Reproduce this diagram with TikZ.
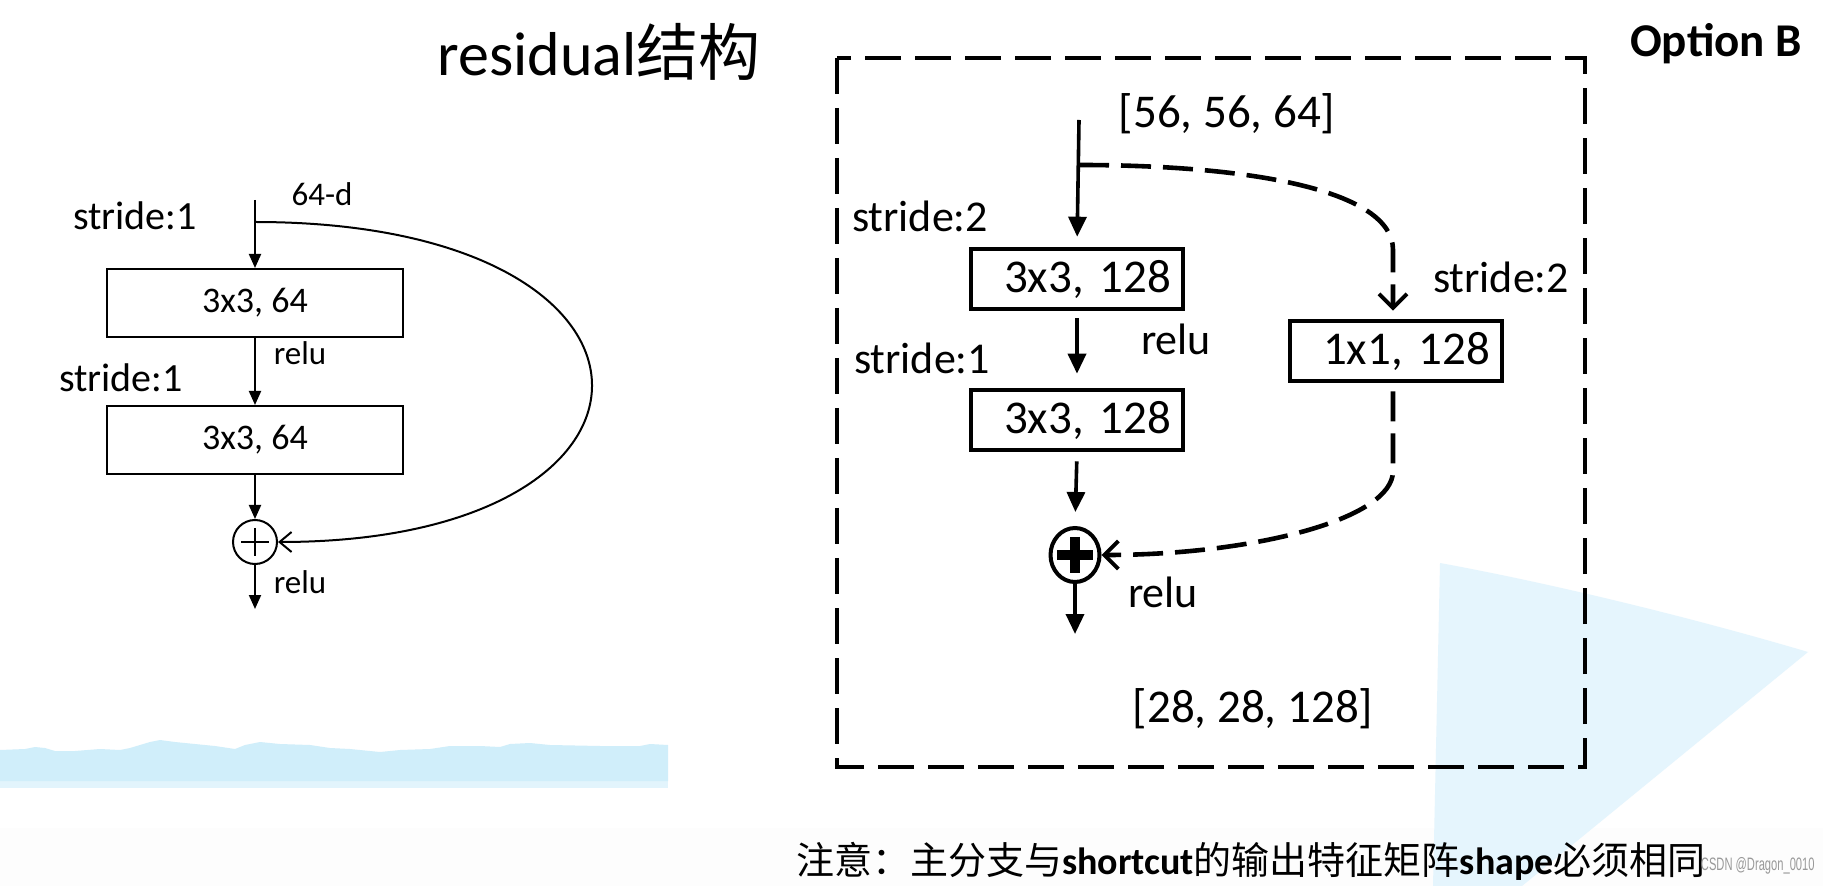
\documentclass[tikz,border=0pt]{standalone}
\usepackage{fontspec}
\setmainfont{Carlito}
\newfontfamily\cjk{Noto Sans CJK SC}
\newfontfamily\wmfont{Liberation Sans}
\usetikzlibrary{arrows.meta,shapes.geometric}
\definecolor{bandblue}{HTML}{D0EEFA}
\definecolor{bandlight}{HTML}{E2F4FC}
\definecolor{triblue}{HTML}{E5F5FD}
\definecolor{floor}{HTML}{FDFDFD}
\begin{document}
\begin{tikzpicture}[x=0.5pt,y=-0.5pt,
  lbox/.style={draw, line width=1pt, minimum width=148pt, minimum height=34pt, inner sep=0pt, font=\fontsize{18}{20}\selectfont},
  ltext/.style={inner sep=0pt, font=\fontsize{16.5}{18}\selectfont},
  larrow/.style={line width=1pt, -{Triangle[length=7pt,width=6pt]}},
  lbarb/.style={line width=1pt, -{Straight Barb[length=6pt,width=10pt,line width=1pt]}},
  rbox/.style={draw, line width=2.3pt, minimum height=30pt, text width=94pt, align=right, inner xsep=6pt, inner ysep=0pt, font=\fontsize{23.5}{26}\selectfont},
  rtext/.style={inner sep=0pt, font=\fontsize{22}{24}\selectfont},
  rarrow/.style={line width=1.8pt, -{Triangle[length=10pt,width=9pt]}},
  rdash/.style={line width=2.3pt, dash pattern=on 15pt off 6pt},
  rbarb/.style={-{Straight Barb[length=7pt,width=14pt,line width=2pt]}},
  frame/.style={line width=2.4pt, dash pattern=on 18pt off 7pt},
  plain/.style={inner sep=0pt}
]
\useasboundingbox (0,0) rectangle (1823,886);
% background
\fill[white] (0,0) rectangle (1823,886);
\fill[floor] (0,828) rectangle (1823,886);
\fill[triblue] (1440,563) .. controls (1560,585) and (1700,620) .. (1808,652) -- (1522,886) -- (1433,886) -- cycle;
\fill[bandlight] (0,775) rectangle (668,788);
\fill[bandblue] (0,750) -- (25,749) -- (35,747) -- (45,748) -- (55,751) -- (75,751) -- (100,749) -- (120,750)
  -- (130,748) -- (140,745) -- (150,742) -- (160,740) -- (175,742) -- (195,744) -- (215,746) -- (235,749)
  -- (245,745) -- (260,742) -- (280,744) -- (310,745) -- (330,748) -- (350,749) -- (370,751) -- (380,752)
  -- (400,750) -- (430,749) -- (450,746) -- (480,746) -- (500,747) -- (510,744) -- (530,743) -- (550,745)
  -- (600,746) -- (640,746) -- (650,744) -- (668,745) -- (668,781) -- (0,781) -- cycle;

% title
\node[plain, font=\fontsize{31}{34}\selectfont] (title) at (599,52) {residual{\cjk 结构}};

% ---------------- left diagram ----------------
\coordinate (Ltop) at (255,200);
\coordinate (Lbr) at (255,222);
\node[lbox] (L1) at (255,303) {3x3, 64};
\node[lbox] (L2) at (255,440) {3x3, 64};
\node[circle, draw, line width=1pt, minimum size=22pt, inner sep=0pt] (Lc) at (255,542) {};
\draw[line width=1pt] (Lc.center) ++(-14,0) -- ++(28,0);
\draw[line width=1pt] (Lc.center) ++(0,-14) -- ++(0,28);
\coordinate (Lbot) at (255,609);

\draw[larrow] (Ltop) -- (L1.north);
\draw[larrow] (L1.south) -- (L2.north);
\draw[larrow] (L2.south) -- (Lc.north);
\draw[larrow] (Lc.south) -- (Lbot);
\draw[lbarb] (Lbr) .. controls (700,222) and (700,542) .. (Lc.east);

\node[ltext, font=\fontsize{20}{22}\selectfont] (ls1) at (135,216) {stride:1};
\node[ltext] (l64) at (322,194) {64-d};
\node[ltext] (lrelu1) at (300,353) {relu};
\node[ltext, font=\fontsize{20}{22}\selectfont] (ls2) at (121,378) {stride:1};
\node[ltext] (lrelu2) at (300,582) {relu};

% ---------------- right diagram ----------------
\draw[frame] (837,58) rectangle (1585,767);
\node[plain, font=\bfseries\fontsize{23.5}{26}\selectfont] (optb) at (1716,44) {Option B};

\coordinate (Rtop) at (1079,120);
\coordinate (Rbr) at (1079,165);
\node[rbox] (R1) at (1077,279) {3x3, 128};
\node[rbox] (R2) at (1077,420) {3x3, 128};
\node[rbox] (R3) at (1396,351) {1x1, 128};
\node[ellipse, draw, line width=2pt, minimum width=24.5pt, minimum height=27pt, inner sep=0pt] (Rc) at (1075,555) {};
\draw[line width=5pt] (Rc.center) ++(-18,0) -- ++(36,0);
\draw[line width=5pt] (Rc.center) ++(0,-18) -- ++(0,36);
\coordinate (Rbot) at (1075,634);
\coordinate (Rk1) at (1393,250);
\coordinate (Rk2) at (1393,471);

\draw[rarrow, shorten >=5pt] (Rtop) -- (R1.north);
\draw[rarrow, shorten <=3.5pt, shorten >=7pt] (R1.south) -- (R2.north);
\draw[rarrow, shorten <=4.5pt, shorten >=7pt] (R2.south) -- (Rc.north);
\draw[rarrow] (Rc.south) -- (Rbot);
\draw[rdash, rbarb, shorten >=4pt] (Rbr) .. controls (1250,165) and (1393,190) .. (Rk1) -- (R3.north -| Rk1);
\draw[rdash, rbarb, shorten <=4pt] (R3.south -| Rk2) -- (Rk2) .. controls (1393,520) and (1250,555) .. (Rc.east);

\node[rtext] (rs1) at (920,216) {stride:2};
\node[rtext] (rs3) at (1501,277) {stride:2};
\node[rtext] (rrelu1) at (1176,339) {relu};
\node[rtext] (rs2) at (922,358) {stride:1};
\node[rtext] (rrelu2) at (1163,592) {relu};
\node[rtext, font=\fontsize{23.5}{26}\selectfont] (rin) at (1227,114) {[56, 56, 64]};
\node[rtext, font=\fontsize{23.5}{26}\selectfont] (rout) at (1253,709) {[28, 28, 128]};

% bottom note
\node[plain, font=\fontsize{19}{22}\selectfont] (note) at (1251,861)
  {{\cjk 注意：主分支与}\textbf{shortcut}{\cjk 的输出特征矩阵}\textbf{shape}{\cjk 必须相同}};
\node[plain, anchor=east, font=\wmfont\fontsize{9}{10}\selectfont, text=black!40] (wm) at (1815,866) {\scalebox{0.62}[1]{CSDN @Dragon\_0010}};
\end{tikzpicture}
\end{document}
